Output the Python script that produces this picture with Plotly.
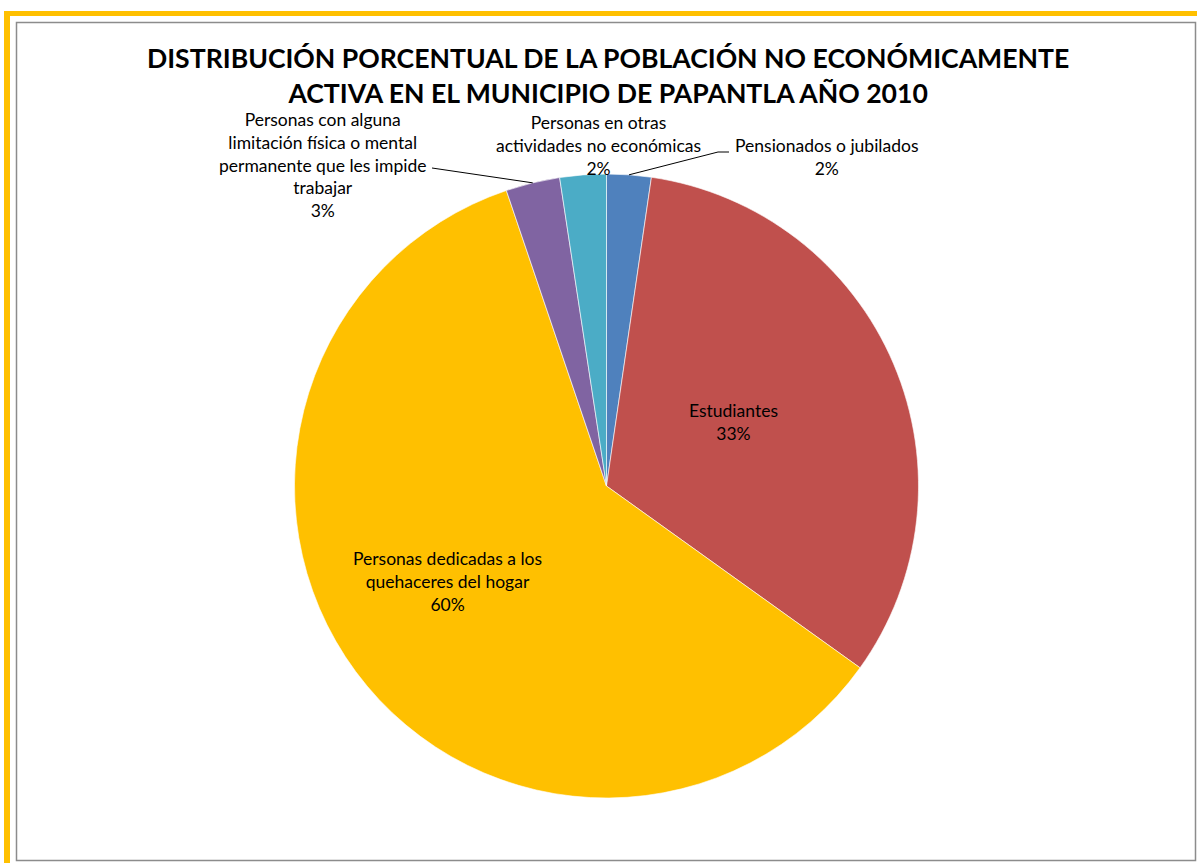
import math
import plotly.graph_objects as go

W, H = 1197, 863

# ---- data ----
categories = [
    "Pensionados o jubilados",
    "Estudiantes",
    "Personas dedicadas a los quehaceres del hogar",
    "Personas con alguna limitación física o mental permanente que les impide trabajar",
    "Personas en otras actividades no económicas",
]
label_lines = [
    "Pensionados o jubilados",
    "Estudiantes",
    "Personas dedicadas a los<br>quehaceres del hogar",
    "Personas con alguna<br>limitación física o mental<br>permanente que les impide<br>trabajar",
    "Personas en otras<br>actividades no económicas",
]
values = [2.3, 32.6, 59.9, 2.8, 2.4]
colors = ["#4F81BD", "#C0504D", "#FFC000", "#8064A2", "#4BACC6"]
title_text = ("DISTRIBUCIÓN PORCENTUAL DE LA POBLACIÓN NO ECONÓMICAMENTE<br>"
              "ACTIVA EN EL MUNICIPIO DE PAPANTLA AÑO 2010")

# ---- layout geometry (pixels) ----
CX, CY, R = 606.5, 486.0, 312.0
label_pos = [(826, 157), (733, 422), (447, 581), (322, 165), (598, 145)]


def px(x):
    return x / W


def py(y):
    return 1 - y / H


total = sum(values)
pcts = [v / total for v in values]

fig = go.Figure(go.Pie(
    labels=categories,
    values=values,
    sort=False,
    direction="clockwise",
    rotation=0,
    marker=dict(colors=colors, line=dict(color="rgba(255,255,255,0.6)", width=1)),
    textinfo="none",
    hoverinfo="label+percent",
    showlegend=False,
    domain=dict(x=[px(CX - R), px(CX + R)], y=[py(CY + R), py(CY - R)]),
))

font = dict(family="Lato, Open Sans, sans-serif", size=17.5, color="#000000")
annotations = []
for txt, p, (lx, ly) in zip(label_lines, pcts, label_pos):
    annotations.append(dict(
        x=px(lx), y=py(ly), xref="paper", yref="paper",
        text=f"{txt}<br>{round(p * 100):.0f}%",
        showarrow=False, align="center", xanchor="center", yanchor="middle",
        font=font,
    ))

annotations.append(dict(
    x=px(608), y=py(75), xref="paper", yref="paper", text=title_text,
    showarrow=False, align="center", xanchor="center", yanchor="middle",
    font=dict(family="Lato, Open Sans, sans-serif", size=26.6, color="#000000",
              weight="bold"),
))

# leader-line anchors computed from slice mid-angles
cum = 0
mid_angles = []
for p in pcts:
    mid_angles.append((cum + p / 2) * 2 * math.pi)
    cum += p


def edge_point(i):
    a = mid_angles[i]
    return CX + R * math.sin(a), CY - R * math.cos(a)


shapes = []
# orange outer frame (top and left)
shapes.append(dict(type="rect", xref="paper", yref="paper",
                   x0=px(4), x1=px(W), y0=py(11), y1=py(16),
                   fillcolor="#FFC000", line=dict(width=0), layer="below"))
shapes.append(dict(type="rect", xref="paper", yref="paper",
                   x0=px(4), x1=px(10), y0=py(11), y1=py(H),
                   fillcolor="#FFC000", line=dict(width=0), layer="below"))
# gray chart-area border
shapes.append(dict(type="rect", xref="paper", yref="paper",
                   x0=px(16.5), x1=px(1195.5), y0=py(22.5), y1=py(860.5),
                   line=dict(color="#8C8C8C", width=1.5), layer="below"))

# leader line: limitación (index 3)
ex, ey = edge_point(3)
shapes.append(dict(type="path", xref="paper", yref="paper",
                   path=f"M {px(432)} {py(168)} L {px(ex)} {py(ey)}",
                   line=dict(color="#000000", width=1)))
# leader line: pensionados (index 0)
ex, ey = edge_point(0)
shapes.append(dict(type="path", xref="paper", yref="paper",
                   path=f"M {px(729)} {py(152)} L {px(718)} {py(152)} L {px(ex)} {py(ey)}",
                   line=dict(color="#000000", width=1)))

fig.update_layout(
    width=W, height=H,
    margin=dict(l=0, r=0, t=0, b=0),
    paper_bgcolor="#FFFFFF", plot_bgcolor="#FFFFFF",
    annotations=annotations,
    shapes=shapes,
)

fig.write_html(
    "out.html",
    config={"displayModeBar": False},
    post_script="document.body.style.margin='0';document.body.style.overflow='hidden';",
)
